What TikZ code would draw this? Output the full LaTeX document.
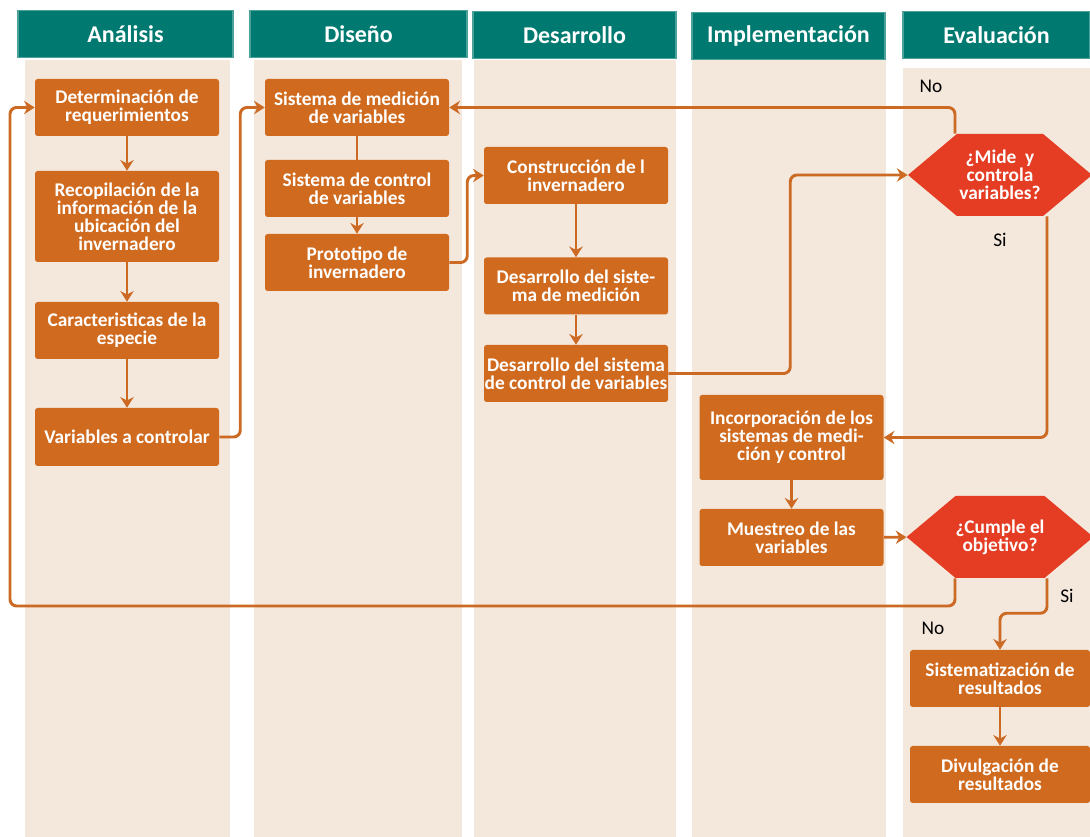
\documentclass[tikz,border=0pt]{standalone}
\usepackage{fontspec}
\setmainfont{Carlito}
\usetikzlibrary{arrows.meta,shapes.symbols,calc}
\definecolor{tealhead}{HTML}{007A70}
\definecolor{lane}{HTML}{F4E7DB}
\definecolor{boxor}{HTML}{D06A1E}
\definecolor{hexred}{HTML}{E43D24}
\definecolor{flowor}{HTML}{CC6A24}

\tikzset{
  head/.style={fill=tealhead, draw=tealhead!70!white, line width=0.8pt, text=white,
    font=\fontsize{18}{18}\selectfont\bfseries, minimum height=35.25pt, inner sep=0pt},
  paso/.style={fill=boxor, rounded corners=2pt, text=white,
    font=\fontsize{14.5}{13.5}\selectfont\bfseries, align=center,
    minimum width=138pt, minimum height=42.75pt, inner sep=0pt},
  decide/.style={shape=signal, signal to=west and east, signal pointer angle=80,
    fill=hexred, text=white, font=\fontsize{14.5}{13.5}\selectfont\bfseries, align=center,
    minimum width=138pt, minimum height=61.5pt, inner sep=0pt},
  flow/.style={draw=flowor, line width=2.2pt, rounded corners=5pt,
    -{Stealth[length=8pt,width=10pt]}},
  etiq/.style={font=\fontsize{14.5}{14.5}\selectfont, text=black}
}

\begin{document}
\begin{tikzpicture}[x=0.75pt,y=-0.75pt]
\useasboundingbox (0,0) rectangle (1090,837);
% carriles
\foreach \a/\b in {25/230, 254/462, 474/676, 692/886}{
\fill[lane] (\a,60) rectangle (\b,837);
}
\fill[lane] (903,68) rectangle (1090,837);

% encabezados
\node[head, minimum width=161.25pt] (hana) at (125.5,34) {Análisis};
\node[head, minimum width=162.75pt] (hdis) at (358.5,34) {Diseño};
\node[head, minimum width=152.25pt] (hdes) at (574.5,35) {Desarrollo};
\node[head, minimum width=144.75pt] (himp) at (788.5,36) {Implementación};
\node[head, minimum width=140.25pt] (heva) at (996.5,35) {Evaluación};

% Analisis
\node[paso] (req) at (127,107.5) {Determinación de\\requerimientos};
\node[paso, minimum height=68.25pt] (recop) at (127,216.5) {Recopilación de la\\información de la\\ubicación del\\invernadero};
\node[paso] (carac) at (127,330.5) {Caracteristicas de la\\especie};
\node[paso, minimum height=43.5pt] (varc) at (127,437) {Variables a controlar};

% Diseno
\node[paso] (smed) at (357,107.5) {Sistema de medición\\de variables};
\node[paso] (sctrl) at (357,188.5) {Sistema de control\\de variables};
\node[paso] (proto) at (357,262.5) {Prototipo de\\invernadero};

% Desarrollo
\node[paso] (constr) at (576,175.5) {Construcción de l\\invernadero};
\node[paso] (dmed) at (576,286) {Desarrollo del siste-\\ma de medición};
\node[paso] (dctrl) at (576,373.5) {Desarrollo del sistema\\de control de variables};

% Implementacion
\node[paso, minimum height=63.75pt] (incorp) at (791.5,437.5) {Incorporación de los\\sistemas de medi-\\ción y control};
\node[paso] (muest) at (791.5,537.5) {Muestreo de las\\variables};

% Evaluacion
\node[decide] (mide) at (1000,175) {¿Mide~~y\\controla\\variables?};
\node[decide] (cumple) at (1000,537) {¿Cumple el\\objetivo?};
\node[paso, minimum width=135pt] (sist) at (1000,678.5) {Sistematización de\\resultados};
\node[paso, minimum width=135pt] (divul) at (1000,774.5) {Divulgación de\\resultados};

\node[etiq] (no1) at (931,86) {No};
\node[etiq] (si1) at (1000,240) {Si};
\node[etiq] (no2) at (933,628) {No};
\node[etiq] (si2) at (1067,596) {Si};

% flechas
\draw[flow] (req) -- (recop);
\draw[flow] (recop) -- (carac);
\draw[flow] (carac) -- (varc);
\draw[flow] (varc.east) -- ++(21,0) |- (smed.west);
\draw[flow,-] (smed) -- (sctrl);
\draw[flow] (sctrl) -- (proto);
\draw[flow] (proto.east) -- ++(18,0) |- (constr.west);
\draw[flow] (constr) -- (dmed);
\draw[flow] (dmed) -- (dctrl);
\draw[flow] (dctrl.east) -- ++(122,0) |- (mide.west);
\draw[flow] ($(mide.north)+(-45,0)$) |- (smed.east);
\draw[flow] ($(mide.south)+(47,0)$) |- (incorp.east);
\draw[flow] (incorp) -- (muest);
\draw[flow] (muest) -- (cumple);
\coordinate (vuelta) at (10,606);
\draw[flow] ($(cumple.south)+(-45,0)$) |- (vuelta) |- (req.west);
\draw[flow] ($(cumple.south)+(47,0)$) -- ++(0,35) -| (sist.north);
\draw[flow] (sist) -- (divul);
\end{tikzpicture}
\end{document}
